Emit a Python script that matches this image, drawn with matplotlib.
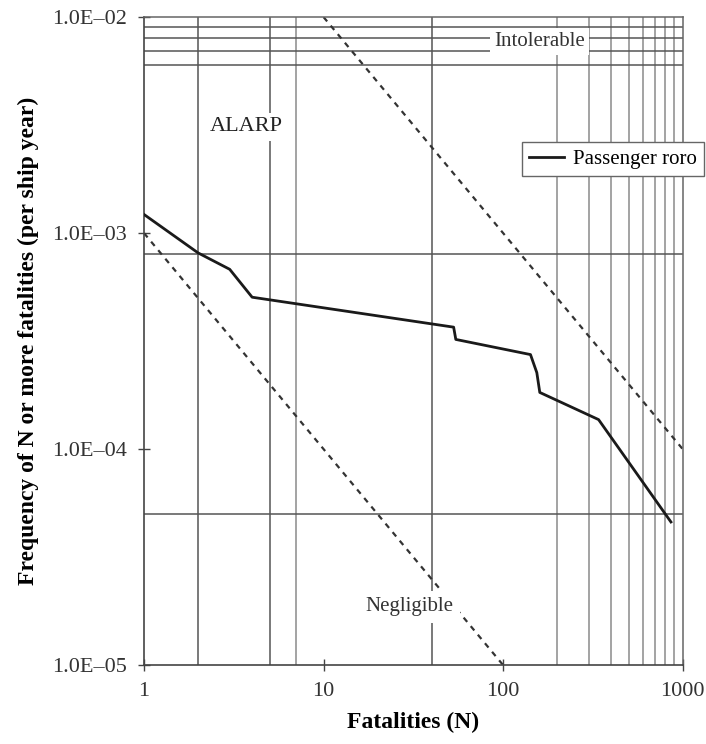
import matplotlib
matplotlib.use("Agg")
import matplotlib.pyplot as plt

plt.rcParams['font.family'] = ['Liberation Serif', 'DejaVu Serif']

# F-N curve for passenger ro-ro ships
roro_N = [1, 2, 3, 4, 53, 54.5, 142, 154, 160, 340, 860]
roro_F = [1.22e-3, 8.1e-4, 6.8e-4, 5.05e-4, 3.67e-4, 3.22e-4, 2.74e-4, 2.26e-4, 1.83e-4, 1.37e-4, 4.6e-5]

# risk criteria lines
intol_N = [10, 1000]
intol_F = [1e-2, 1e-4]
negl_N = [1, 100]
negl_F = [1e-3, 1e-5]

# grid lines as drawn in the original figure
vlines_dark = [2, 5, 40]
vlines_light = [7, 200, 300, 400, 500, 600, 700, 800, 900]
hlines = [9e-3, 8e-3, 7e-3, 6e-3, 8e-4, 5e-5]

xticks = [1, 10, 100, 1000]
xticklabels = ["1", "10", "100", "1000"]
yticks = [1e-5, 1e-4, 1e-3, 1e-2]
yticklabels = ["1.0E\u201305", "1.0E\u201304", "1.0E\u201303", "1.0E\u201302"]

fig = plt.figure(figsize=(7.06, 7.44), dpi=100)
ax = fig.add_axes([0.204, 0.106, 0.763, 0.871])
ax.set_xscale("log")
ax.set_yscale("log")
ax.set_xlim(1, 1000)
ax.set_ylim(1e-5, 1e-2)

for x in vlines_dark:
    ax.axvline(x, color="#555555", lw=1.1, zorder=1)
for x in vlines_light:
    ax.axvline(x, color="#8a8a8a", lw=1.1, zorder=1)
for y in hlines:
    ax.axhline(y, color="#555555", lw=1.1, zorder=1)

ax.plot(intol_N, intol_F, color="#333333", lw=1.6, ls=(0, (2.5, 2.5)), zorder=2)
ax.plot(negl_N, negl_F, color="#333333", lw=1.6, ls=(0, (2.5, 2.5)), zorder=2)
ax.plot(roro_N, roro_F, color="#1a1a1a", lw=2.0, label="Passenger roro", zorder=3)

box = dict(facecolor="white", edgecolor="none", pad=3)
ax.text(160, 7.7e-3, "Intolerable", fontsize=15, color="#333333",
        ha="center", va="center", bbox=box, zorder=4)
ax.text(3.7, 3.1e-3, "ALARP", fontsize=16, color="#222222",
        ha="center", va="center", bbox=box, zorder=4)
ax.text(30, 1.86e-5, "Negligible", fontsize=15, color="#333333",
        ha="center", va="center", bbox=dict(facecolor="white", edgecolor="none", pad=5),
        zorder=4)

ax.set_xticks(xticks)
ax.set_xticklabels(xticklabels)
ax.set_yticks(yticks)
ax.set_yticklabels(yticklabels)
ax.minorticks_off()
ax.tick_params(direction="inout", length=8, width=1, labelsize=16,
               labelcolor="#333333", color="#444444")
ax.tick_params(axis="x", pad=8)
ax.tick_params(axis="y", pad=8)

for side in ["left", "bottom"]:
    ax.spines[side].set_color("#444444")
    ax.spines[side].set_linewidth(1.2)
for side in ["top", "right"]:
    ax.spines[side].set_color("#666666")
    ax.spines[side].set_linewidth(1.1)

ax.set_xlabel("Fatalities (N)", fontsize=17, fontweight="bold", labelpad=8)
ax.set_ylabel("Frequency of N or more fatalities (per ship year)", fontsize=17,
              fontweight="bold", labelpad=10)

leg = ax.legend(loc="upper left", bbox_to_anchor=(0.739, 0.809),
                bbox_transform=fig.transFigure, fontsize=15, frameon=True,
                fancybox=False, handlelength=1.7, borderpad=0.35,
                handletextpad=0.4, borderaxespad=0)
leg.get_frame().set_edgecolor("#666666")
leg.get_frame().set_linewidth(1.0)
leg.get_frame().set_alpha(1)
leg.set_zorder(5)

fig.savefig("out.png", dpi=100)
